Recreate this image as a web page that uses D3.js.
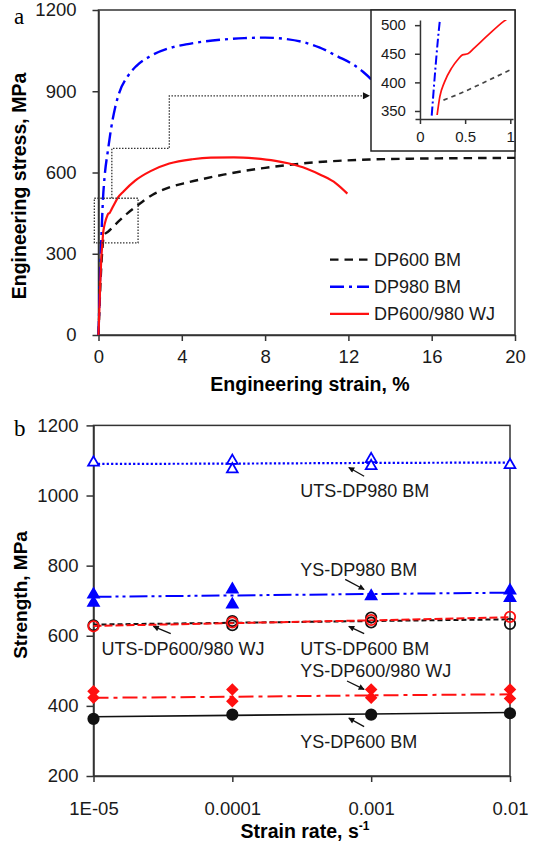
<!DOCTYPE html>
<html>
<head>
<meta charset="utf-8">
<script src="https://cdn.jsdelivr.net/npm/d3@7"></script>
<style>
  body { margin: 0; background: #fff; }
  svg { display: block; }
</style>
</head>
<body>
<svg id="chart" width="534" height="841"></svg>
<script>
// ---------- panel a: stress-strain curves, [strain %, stress MPa] ----------
const dp600Curve = [[0,0],[0.1,200],[0.2,330],[0.26,369],[0.45,381],[0.63,394],[1.0,422],[1.4,450],[1.8,474],
  [2.6,518],[3.4,545],[4.2,562],[5,576],[6,592],[7,606],[8,617],[9,627],[10,635],[11.5,643],[13,648],[15,651],[17.5,653],[20,654]];
const dp980Curve = [[0,0],[0.13,342],[0.22,508],[0.3,590],[0.45,680],[0.6,760],[0.8,840],[1,895],[1.4,955],[1.8,992],
  [2.5,1030],[3.4,1059],[4.2,1073],[5,1083],[6,1091],[7,1096],[8,1098],[9,1093],[9.8,1082],[10.6,1062],[11.5,1028],
  [12.2,1000],[12.7,972],[13.2,935],[13.6,895]];
const wjCurve = [[0,0],[0.08,180],[0.14,290],[0.19,343],[0.22,375],[0.27,400],[0.35,425],[0.42,440],[0.47,448],
  [0.53,450],[0.6,460],[0.75,482],[0.93,507],[1.2,530],[1.76,570],[2.5,605],[3.4,633],[4.5,649],[5.4,655],[6.5,656],
  [7.5,652],[8.5,643],[9.1,634],[10,614],[10.7,590],[11.4,560],[11.95,522]];
const curveNames = ["DP600 BM", "DP980 BM", "DP600/980 WJ"];
const strainTicks = [0, 4, 8, 12, 16, 20];
const stressTicks = [0, 300, 600, 900, 1200];
const insetStrainTicks = [0, 0.5, 1];
const insetStressTicks = [350, 400, 450, 500];
// zoomed window [strain, stress] and the step path to the inset
const zoomWindow = [[-0.2, 340], [1.9, 505]];
const zoomPath = [[0.64, 505], [0.64, 689], [3.4, 689], [3.4, 883], [13.0, 883]];

// ---------- panel b: strength vs strain rate ----------
const strainRates = [1e-5, 1e-4, 1e-3, 1e-2];
const rateLabels = ["1E-05", "0.0001", "0.001", "0.01"];
const strengthTicks = [200, 400, 600, 800, 1000, 1200];
// repeat tests at each strain rate
const utsDp980 = [[1094], [1099, 1075], [1104, 1084], [1087]];
const ysDp980 = [[718, 694], [732, 689], [713], [729, 708]];
const utsWj = [[627], [638], [645], [654]];
const utsDp600 = [[630], [642, 630], [652, 638], [634]];
const ysWj = [[442, 423], [447, 413], [447, 423], [447, 421]];
const ysDp600 = [[363], [375], [375], [379]];
// trend lines at each strain rate
const utsDp980Fit = [1090, 1091, 1093, 1094];
const ysDp980Fit = [711, 715, 719, 723];
const utsWjFit = [628, 636, 644, 653];
const utsDp600Fit = [632, 637, 642, 647];
const ysWjFit = [423, 426, 430, 433];
const ysDp600Fit = [369, 373, 377, 381];

const FONT = "'Liberation Sans', Arial, Helvetica, sans-serif";
const AXIS = "#333";
const BLUE = "#0000ff", RED = "#ff1010";
const plain = d3.format("d");

const svg = d3.select("#chart");
const defs = svg.append("defs");

function arrowMarker(id, w, h) {
    defs.append("marker")
        .attr("id", id)
        .attr("viewBox", "0 0 10 10")
        .attr("refX", 9).attr("refY", 5)
        .attr("markerUnits", "userSpaceOnUse")
        .attr("markerWidth", w).attr("markerHeight", h)
        .attr("orient", "auto")
        .append("path").attr("d", "M0,0L10,5L0,10Z").attr("fill", "#111");
}
arrowMarker("bigHead", 13, 7);
arrowMarker("smallHead", 9, 6);

function styleAxis(g, size) {
    g.attr("font-family", FONT);
    g.select(".domain").attr("stroke", AXIS).attr("stroke-width", 1.5);
    g.selectAll(".tick line").attr("stroke", AXIS).attr("stroke-width", 1.5);
    g.selectAll(".tick text").attr("font-size", size).attr("fill", "#1a1a1a");
}

/* ================= panel a ================= */
const xa = d3.scaleLinear().domain([0, 20]).range([98.5, 515]);
const ya = d3.scaleLinear().domain([0, 1200]).range([335, 10]);

const pa = svg.append("g").attr("class", "panel-a");

pa.append("rect")
    .attr("x", xa(0)).attr("y", ya(1200))
    .attr("width", xa(20) - xa(0)).attr("height", ya(0) - ya(1200))
    .attr("fill", "none").attr("stroke", AXIS).attr("stroke-width", 1.5);

pa.append("g")
    .attr("transform", `translate(0,${ya(0)})`)
    .call(d3.axisBottom(xa).tickValues(strainTicks).tickFormat(plain).tickSize(6).tickSizeOuter(0).tickPadding(9))
    .call(g => styleAxis(g, 18.5));

pa.append("g")
    .attr("transform", `translate(${xa(0)},0)`)
    .call(d3.axisLeft(ya).tickValues(stressTicks).tickFormat(plain).tickSize(6).tickSizeOuter(0).tickPadding(16))
    .call(g => styleAxis(g, 18.5));

const lineA = d3.line().x(d => xa(d[0])).y(d => ya(d[1])).curve(d3.curveMonotoneX);

const curveStyles = [
    {data: dp600Curve, color: "#111", dash: "8.5,6", width: 2.4},
    {data: dp980Curve, color: BLUE, dash: "14,5,3,5", width: 2.4},
    {data: wjCurve, color: RED, dash: null, width: 2.2}
];

pa.selectAll("path.curve")
    .data(curveStyles)
    .enter()
    .append("path")
    .attr("class", "curve")
    .attr("d", d => lineA(d.data))
    .attr("fill", "none")
    .attr("stroke", d => d.color)
    .attr("stroke-width", d => d.width)
    .attr("stroke-dasharray", d => d.dash);

// dotted zoom window and connector to the inset
pa.append("rect")
    .attr("x", xa(zoomWindow[0][0])).attr("y", ya(zoomWindow[1][1]))
    .attr("width", xa(zoomWindow[1][0]) - xa(zoomWindow[0][0]))
    .attr("height", ya(zoomWindow[0][1]) - ya(zoomWindow[1][1]))
    .attr("fill", "none").attr("stroke", "#333").attr("stroke-width", 1.3)
    .attr("stroke-dasharray", "1.5,1.5");

pa.append("path")
    .attr("d", d3.line().x(d => xa(d[0])).y(d => ya(d[1]))(zoomPath))
    .attr("fill", "none").attr("stroke", "#333").attr("stroke-width", 1.3)
    .attr("stroke-dasharray", "1.5,1.5")
    .attr("marker-end", "url(#bigHead)");

// legend
const legend = pa.append("g").attr("class", "legend");
curveStyles.forEach((c, i) => {
    const y = 259.6 + i * 27.1;
    legend.append("line")
        .attr("x1", 330).attr("x2", 369).attr("y1", y).attr("y2", y)
        .attr("stroke", c.color).attr("stroke-width", c.width)
        .attr("stroke-dasharray", c.dash);
    legend.append("text")
        .attr("x", 374).attr("y", y).attr("dy", "0.35em")
        .attr("font-family", FONT).attr("font-size", 18).attr("fill", "#1a1a1a")
        .text(curveNames[i]);
});

// inset
const inset = pa.append("g").attr("class", "inset");
inset.append("rect")
    .attr("x", 371).attr("y", 10).attr("width", 144).attr("height", 141)
    .attr("fill", "#fff").attr("stroke", "#222").attr("stroke-width", 1.5);

const xi = d3.scaleLinear().domain([-0.055, 1.03]).range([415, 513]);
const yi = d3.scaleLinear().domain([336, 509]).range([119, 20]);

defs.append("clipPath").attr("id", "insetClip")
    .append("rect")
    .attr("x", xi(0)).attr("y", yi(509))
    .attr("width", xi(1.03) - xi(0)).attr("height", yi(336) - yi(509));

const lineI = d3.line().x(d => xi(d[0])).y(d => yi(d[1])).curve(d3.curveMonotoneX);
inset.append("g")
    .attr("clip-path", "url(#insetClip)")
    .selectAll("path")
    .data(curveStyles)
    .enter()
    .append("path")
    .attr("d", d => lineI(d.data.filter(p => p[1] >= 340 && p[0] <= 1.3)))
    .attr("fill", "none")
    .attr("stroke", (d, i) => i === 0 ? "#444" : d.color)
    .attr("stroke-width", (d, i) => i === 1 ? 2 : 1.7)
    .attr("stroke-dasharray", (d, i) => ["4.5,4", "9,3,2,3", null][i]);

inset.append("g")
    .attr("transform", `translate(0,${yi(336)})`)
    .call(d3.axisBottom(xi).tickValues(insetStrainTicks).tickFormat(d3.format("")).tickSize(5).tickSizeOuter(0).tickPadding(7))
    .call(g => styleAxis(g, 15));

inset.append("g")
    .attr("transform", `translate(${xi(0)},0)`)
    .call(d3.axisLeft(yi).tickValues(insetStressTicks).tickFormat(plain).tickSize(5).tickSizeOuter(0).tickPadding(9))
    .call(g => styleAxis(g, 15));

// titles
pa.append("text")
    .attr("x", 14).attr("y", 24)
    .attr("font-family", "'Liberation Serif', 'Times New Roman', serif").attr("font-size", 23)
    .text("a");

pa.append("text")
    .attr("x", 310).attr("y", 391)
    .attr("text-anchor", "middle")
    .attr("font-family", FONT).attr("font-size", 19.5).attr("font-weight", "bold")
    .text("Engineering strain, %");

pa.append("text")
    .attr("transform", "translate(26,186) rotate(-90)")
    .attr("text-anchor", "middle")
    .attr("font-family", FONT).attr("font-size", 19.5).attr("font-weight", "bold")
    .text("Engineering stress, MPa");

/* ================= panel b ================= */
const xb = d3.scaleLog().domain([1e-5, 1e-2]).range([93.5, 510]);
const yb = d3.scaleLinear().domain([200, 1200]).range([776, 425.4]);

const pb = svg.append("g").attr("class", "panel-b");

pb.append("rect")
    .attr("x", xb(1e-5)).attr("y", yb(1200))
    .attr("width", xb(1e-2) - xb(1e-5)).attr("height", yb(200) - yb(1200))
    .attr("fill", "none").attr("stroke", AXIS).attr("stroke-width", 1.5);

pb.append("g")
    .attr("transform", `translate(0,${yb(200)})`)
    .call(d3.axisBottom(xb).tickValues(strainRates).tickFormat((d, i) => rateLabels[i])
        .tickSize(6).tickSizeOuter(0).tickPadding(20))
    .call(g => styleAxis(g, 18.5));

pb.append("g")
    .attr("transform", `translate(${xb(1e-5)},0)`)
    .call(d3.axisLeft(yb).tickValues(strengthTicks).tickFormat(plain).tickSize(7).tickSizeOuter(0).tickPadding(8))
    .call(g => styleAxis(g, 18.5));

const series = [
    {values: utsDp980, fit: utsDp980Fit, color: BLUE, dash: "2.2,2.2", width: 2.2, symbol: d3.symbolTriangle, size: 50, fill: "#fff"},
    {values: ysDp980, fit: ysDp980Fit, color: BLUE, dash: "18,4,3,4,3,4", width: 2, symbol: d3.symbolTriangle, size: 50, fill: BLUE},
    {values: utsDp600, fit: utsDp600Fit, color: "#111", dash: "5,3", width: 2, symbol: d3.symbolCircle, size: 85, fill: "none"},
    {values: utsWj, fit: utsWjFit, color: RED, dash: "8,3", width: 2, symbol: d3.symbolCircle, size: 85, fill: "none"},
    {values: ysWj, fit: ysWjFit, color: RED, dash: "15,5,4,5", width: 2, symbol: d3.symbolSquare, size: 50, fill: RED, rotate: 45},
    {values: ysDp600, fit: ysDp600Fit, color: "#111", dash: null, width: 1.6, symbol: d3.symbolCircle, size: 85, fill: "#111"}
];

const lineB = d3.line().x((d, i) => xb(strainRates[i])).y(d => yb(d));

pb.selectAll("path.fit")
    .data(series)
    .enter()
    .append("path")
    .attr("class", "fit")
    .attr("d", s => lineB(s.fit))
    .attr("fill", "none")
    .attr("stroke", s => s.color)
    .attr("stroke-width", s => s.width)
    .attr("stroke-dasharray", s => s.dash);

series.forEach(s => {
    const pts = [];
    s.values.forEach((vals, i) => vals.forEach(v => pts.push([strainRates[i], v])));
    pb.append("g")
        .selectAll("path")
        .data(pts)
        .enter()
        .append("path")
        .attr("d", d3.symbol().type(s.symbol).size(s.size))
        .attr("transform", d => `translate(${xb(d[0])},${yb(d[1])}) rotate(${s.rotate || 0})`)
        .attr("fill", s.fill)
        .attr("stroke", s.color)
        .attr("stroke-width", 1.8);
});

// labels with pointer arrows: text anchor and arrow tail/head as [strain rate, MPa]
const notes = [
    {text: "UTS-DP980 BM", at: [3.08e-4, 996], from: [8.9e-4, 1055], to: [6.9e-4, 1080]},
    {text: "YS-DP980 BM", at: [3.08e-4, 771], from: [6.5e-4, 761], to: [8.9e-4, 732]},
    {text: "UTS-DP600/980 WJ", at: [1.14e-5, 546], from: [3.6e-5, 606], to: [2.7e-5, 627]},
    {text: "UTS-DP600 BM", at: [3.08e-4, 546], from: [8.9e-4, 606], to: [6.9e-4, 627]},
    {text: "YS-DP600/980 WJ", at: [3.08e-4, 482], from: [6.7e-4, 471], to: [8.9e-4, 447]},
    {text: "YS-DP600 BM", at: [3.08e-4, 281], from: [8.9e-4, 341], to: [6.9e-4, 365]}
];

const noteG = pb.append("g").attr("class", "notes");
noteG.selectAll("text")
    .data(notes)
    .enter()
    .append("text")
    .attr("x", d => xb(d.at[0])).attr("y", d => yb(d.at[1]))
    .attr("font-family", FONT).attr("font-size", 18).attr("fill", "#1a1a1a")
    .text(d => d.text);

noteG.selectAll("line")
    .data(notes)
    .enter()
    .append("line")
    .attr("x1", d => xb(d.from[0])).attr("y1", d => yb(d.from[1]))
    .attr("x2", d => xb(d.to[0])).attr("y2", d => yb(d.to[1]))
    .attr("stroke", "#111").attr("stroke-width", 1.3)
    .attr("marker-end", "url(#smallHead)");

pb.append("text")
    .attr("x", 14).attr("y", 436)
    .attr("font-family", "'Liberation Serif', 'Times New Roman', serif").attr("font-size", 23)
    .text("b");

const xTitle = pb.append("text")
    .attr("x", 305).attr("y", 838)
    .attr("text-anchor", "middle")
    .attr("font-family", FONT).attr("font-size", 19.5).attr("font-weight", "bold")
    .text("Strain rate, s");
xTitle.append("tspan")
    .attr("font-size", 12).attr("dy", -8)
    .text("-1");

pb.append("text")
    .attr("transform", "translate(27,595) rotate(-90)")
    .attr("text-anchor", "middle")
    .attr("font-family", FONT).attr("font-size", 19).attr("font-weight", "bold")
    .text("Strength, MPa");
</script>
</body>
</html>
